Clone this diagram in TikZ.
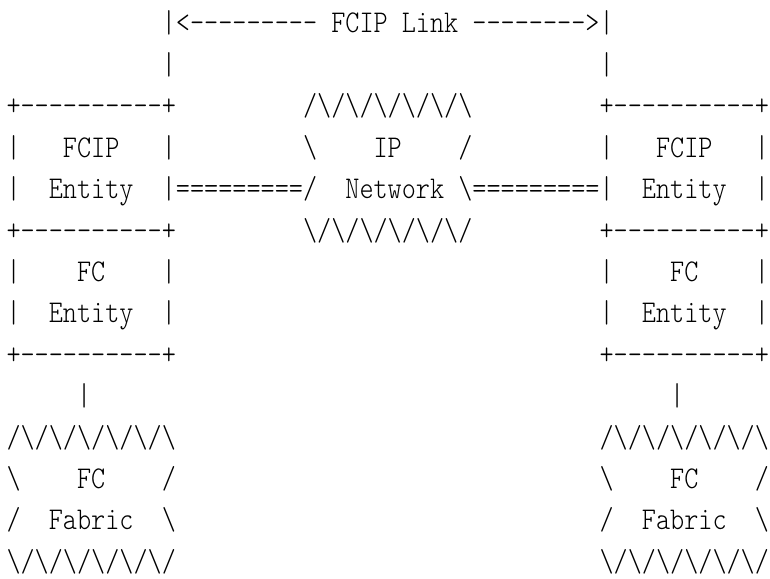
\documentclass[tikz,border=0pt]{standalone}
\usepackage{fontspec}
\newfontfamily\ascfont{lmmonolt10-regular}[Extension=.otf, FakeStretch=0.85]
\newcommand\bs{\textbackslash}
\newcommand\hy{-\kern0pt }
\newcommand\boxedge{+\hy\hy\hy\hy\hy\hy\hy\hy\hy\hy+}
\newcommand\zigtop{/\bs/\bs/\bs/\bs/\bs/\bs}
\newcommand\zigbot{\bs/\bs/\bs/\bs/\bs/\bs/}
\begin{document}
\begin{tikzpicture}[x=14.12pt, y=-41.4pt,
  asc/.style={anchor=base west, inner sep=0pt, outer sep=0pt,
    font=\ascfont\fontsize{31.64pt}{36pt}\selectfont}]
\useasboundingbox (0pt,0pt) rectangle (770pt,-578pt);
\begin{scope}[shift={(6.5pt,-33pt)}]
% row 0: FCIP link
\node[asc] (linkL) at (11,0) {|<\hy\hy\hy\hy\hy\hy\hy\hy\hy};
\node[asc] (linkW1) at (23,0) {FCIP};
\node[asc] (linkW2) at (28,0) {Link};
\node[asc] (linkR) at (33,0) {\hy\hy\hy\hy\hy\hy\hy\hy>|};
% row 1
\node[asc] (tickL) at (11,1) {|};
\node[asc] (tickR) at (42,1) {|};
% row 2
\node[asc] (lfcipTop) at (0,2) {\boxedge};
\node[asc] (ipTop) at (21,2) {\zigtop};
\node[asc] (rfcipTop) at (42,2) {\boxedge};
% row 3
\node[asc] (lfcipA) at (0,3) {|};
\node[asc] (lfcipT1) at (4,3) {FCIP};
\node[asc] (lfcipB) at (11,3) {|};
\node[asc] (ipA) at (21,3) {\bs};
\node[asc] (ipT1) at (26,3) {IP};
\node[asc] (ipB) at (32,3) {/};
\node[asc] (rfcipA) at (42,3) {|};
\node[asc] (rfcipT1) at (46,3) {FCIP};
\node[asc] (rfcipB) at (53,3) {|};
% row 4
\node[asc] (lfcipC) at (0,4) {|};
\node[asc] (lfcipT2) at (3,4) {Entity};
\node[asc] (linkEqL) at (11,4) {|=========/};
\node[asc] (ipT2) at (24,4) {Network};
\node[asc] (linkEqR) at (32,4) {\bs=========|};
\node[asc] (rfcipT2) at (45,4) {Entity};
\node[asc] (rfcipD) at (53,4) {|};
% row 5
\node[asc] (lfcipMid) at (0,5) {\boxedge};
\node[asc] (ipBot) at (21,5) {\zigbot};
\node[asc] (rfcipMid) at (42,5) {\boxedge};
% row 6
\node[asc] (lfcA) at (0,6) {|};
\node[asc] (lfcT1) at (5,6) {FC};
\node[asc] (lfcB) at (11,6) {|};
\node[asc] (rfcA) at (42,6) {|};
\node[asc] (rfcT1) at (47,6) {FC};
\node[asc] (rfcB) at (53,6) {|};
% row 7
\node[asc] (lfcC) at (0,7) {|};
\node[asc] (lfcT2) at (3,7) {Entity};
\node[asc] (lfcD) at (11,7) {|};
\node[asc] (rfcC) at (42,7) {|};
\node[asc] (rfcT2) at (45,7) {Entity};
\node[asc] (rfcD) at (53,7) {|};
% row 8
\node[asc] (lfcBot) at (0,8) {\boxedge};
\node[asc] (rfcBot) at (42,8) {\boxedge};
% row 9
\node[asc] (lconn) at (5,9) {|};
\node[asc] (rconn) at (47,9) {|};
% rows 10-13: fabrics
\node[asc] (lfabTop) at (0,10) {\zigtop};
\node[asc] (rfabTop) at (42,10) {\zigtop};
\node[asc] (lfabA) at (0,11) {\bs};
\node[asc] (lfabT1) at (5,11) {FC};
\node[asc] (lfabB) at (11,11) {/};
\node[asc] (rfabA) at (42,11) {\bs};
\node[asc] (rfabT1) at (47,11) {FC};
\node[asc] (rfabB) at (53,11) {/};
\node[asc] (lfabC) at (0,12) {/};
\node[asc] (lfabT2) at (3,12) {Fabric};
\node[asc] (lfabD) at (11,12) {\bs};
\node[asc] (rfabC) at (42,12) {/};
\node[asc] (rfabT2) at (45,12) {Fabric};
\node[asc] (rfabD) at (53,12) {\bs};
\node[asc] (lfabBot) at (0,13) {\zigbot};
\node[asc] (rfabBot) at (42,13) {\zigbot};
\end{scope}
\end{tikzpicture}
\end{document}
